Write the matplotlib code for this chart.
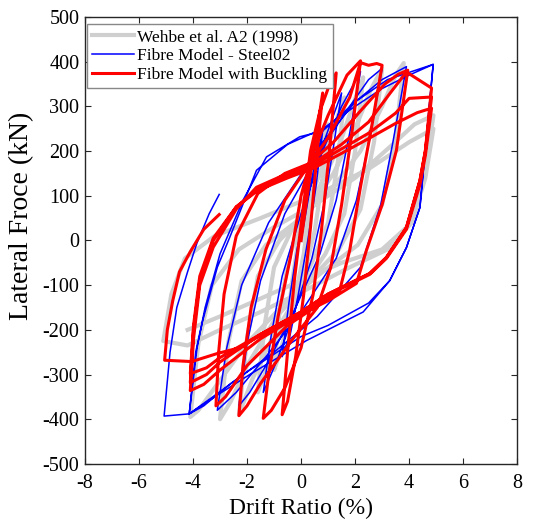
import matplotlib
matplotlib.use("Agg")
import matplotlib.pyplot as plt

plt.rcParams['axes.unicode_minus'] = False
plt.rcParams['font.family'] = ['Liberation Serif', 'DejaVu Serif']

# Wehbe et al. A2 (1998) test - drift (%) and lateral force (kN)
test_drift = [0, 0.25, 0.5, 0.35, 0.1, -0.2, -0.5,
              -0.35, -0.05, 0.4, 0.75, 1.0, 0.8, 0.5, 0.1, -0.5, -0.8, -1.0,
              -0.8, -0.45, 0.1, 0.7, 1.2, 1.6, 1.35, 1.0, 0.4, -0.4, -1.1, -1.6,
              -1.35, -1.0, -0.3, 0.6, 1.4, 1.9, 2.3, 2.0, 1.6, 0.9, 0.0, -1.0, -1.8, -2.3,
              -2.0, -1.6, -0.8, 0.3, 1.2, 2.0, 2.6, 3.0, 2.7, 2.2, 1.4, 0.3, -0.9, -2.0, -2.6, -3.0,
              -2.7, -2.2, -1.3, 0.0, 1.2, 2.2, 3.0, 3.5, 3.8, 3.5, 3.0, 2.1, 0.8, -0.6, -2.0, -3.2, -3.8, -4.1,
              -3.8, -3.3, -2.3, -1.0, 0.5, 2.0, 3.3, 4.2, 4.9, 4.6, 4.1, 3.2, 1.8, 0.2, -1.5, -3.0, -4.2, -5.1,
              -4.8, -4.3, -3.2, -1.5, 0.5, 2.5, 4.0, 4.9, 4.6, 4.1, 3.0, 1.5, 0.0, -1.5, -3.0, -4.2]
test_force = [0, 110, 190, 90, -30, -120, -200,
              -100, 20, 130, 210, 260, 140, 20, -80, -190, -255, -290,
              -160, -40, 60, 150, 250, 320, 170, 40, -50, -150, -260, -340,
              -190, -60, 30, 110, 210, 300, 365, 200, 60, -30, -110, -210, -310, -390,
              -220, -80, 0, 70, 150, 250, 340, 385, 220, 70, -20, -90, -170, -280, -360, -400,
              -230, -90, -10, 50, 120, 200, 300, 370, 397, 230, 80, -10, -70, -140, -230, -330, -380, -395,
              -230, -100, -20, 30, 80, 140, 210, 260, 280, 150, 40, -20, -60, -110, -160, -200, -235, -225,
              -120, -40, 10, 50, 100, 160, 220, 250, 140, 40, -20, -50, -90, -130, -170, -200]

# Fibre model - Steel02
steel_drift = [0, 0.4, 0.8, 0.55, 0.25, -0.1, -0.4, -0.7,
               -0.45, -0.15, 0.3, 0.9, 1.5, 1.2, 0.85, 0.4, -0.3, -0.9, -1.4,
               -1.1, -0.7, 0.0, 0.8, 1.5, 2.2, 1.8, 1.3, 0.7, -0.2, -1.2, -1.9, -2.3,
               -2.0, -1.5, -0.6, 0.8, 1.8, 2.5, 3.0, 2.55, 2.05, 1.3, 0.0, -1.3, -2.4, -3.1,
               -2.75, -2.2, -1.2, 0.8, 2.0, 3.0, 3.9, 3.4, 2.95, 2.2, 0.6, -1.0, -2.6, -3.6, -4.14,
               -3.9, -3.64, -3.1, -2.64, -1.65, -0.5, 0.8, 2.0, 3.0, 4.0, 4.89, 4.4, 3.9, 3.28, 2.5, 1.0, 0.0, -1.9, -3.5, -4.14,
               -3.85, -3.55, -3.0, -2.15, -1.28, -0.05, 0.8, 2.0, 3.2, 4.89, 4.4, 3.9, 3.28, 2.3, 0.2, -1.9, -3.2, -4.14, -5.07,
               -4.85, -4.6, -4.2, -3.85, -3.4, -3.03]
steel_force = [0, 140, 245, 120, 0, -120, -210, -260,
               -140, -20, 110, 230, 330, 210, 80, -40, -170, -270, -340,
               -210, -80, 60, 200, 300, 378, 240, 90, -30, -150, -270, -340, -370,
               -230, -90, 60, 210, 300, 360, 385, 230, 90, -40, -160, -260, -340, -380,
               -240, -100, 40, 220, 310, 360, 389, 220, 80, -60, -170, -250, -320, -370, -388,
               -250, -179, -60, 7, 157, 215, 250, 300, 340, 370, 394, 74, -16, -90, -140, -190, -215, -290, -360, -388,
               -240, -150, -30, 90, 187, 232, 245, 310, 360, 394, 74, -16, -90, -160, -224, -300, -350, -388, -393,
               -250, -150, -70, -5, 60, 103]

# Fibre model with buckling
buck_drift = [0, 0.3, 0.6, 0.8, 0.6, 0.35, 0.1, -0.2, -0.5, -0.7,
              -0.5, -0.25, 0.05, 0.35, 0.7, 1.0, 1.3, 1.05, 0.75, 0.45, 0.0, -0.6, -1.1, -1.4,
              -1.2, -0.85, -0.4, 0.0, 0.4, 1.0, 1.7, 2.2, 1.9, 1.5, 1.1, 0.6, -0.3, -1.5, -2.0, -2.3,
              -2.15, -1.85, -1.3, -0.6, 0.3, 1.0, 1.8, 2.2, 2.5, 2.8, 3.0, 2.6, 2.2, 1.8, 1.43, 0.5, -0.5, -2.0, -2.8, -3.15,
              -3.05, -2.85, -2.4, -1.6, -0.6, 0.3, 1.2, 2.2, 3.1, 3.6, 3.95, 3.53, 3.0, 2.42, 2.05, 1.0, 0.0, -1.5, -3.0, -3.6, -4.1,
              -3.98, -3.75, -3.25, -2.4, -1.65, -0.5, 0.5, 1.5, 2.5, 3.3, 3.9, 4.83, 4.6, 4.4, 3.9, 3.16, 2.54, 1.0, 0.0, -1.5, -3.0, -3.5, -4.1,
              -3.98, -3.75, -3.25, -2.4, -1.6, -0.5, 0.5, 1.5, 2.5, 3.5, 4.0, 4.83, 4.6, 4.4, 3.9, 3.16, 2.54, 1.0, 0.0, -1.5, -3.0, -3.5, -4.1,
              -3.98, -3.75, -3.25, -2.4, -1.6, -0.5, 0.5, 1.5, 2.5, 3.5, 4.3, 4.83, 4.6, 4.4, 3.9, 3.16, 2.54, 1.0, 0.0, -1.5, -2.27, -3.1, -4.05, -5.05,
              -4.95, -4.75, -4.5, -4.1, -3.6, -3.03]
buck_force = [0, 130, 250, 330, 200, 30, -120, -260, -360, -390,
              -250, -90, 60, 200, 290, 340, 375, 200, 20, -120, -240, -330, -380, -398,
              -300, -170, -40, 100, 190, 280, 370, 402, 250, 80, -60, -150, -220, -320, -370, -392,
              -280, -150, -20, 90, 170, 230, 320, 398, 392, 396, 392, 250, 120, -22, -112, -150, -190, -280, -350, -370,
              -250, -120, 10, 105, 150, 172, 220, 290, 350, 372, 381, 202, 80, -22, -96, -135, -165, -220, -290, -322, -336,
              -220, -100, -15, 70, 119, 150, 175, 215, 265, 330, 377, 341, 200, 134, 29, -38, -74, -120, -160, -210, -272, -300, -318,
              -200, -90, 0, 75, 115, 145, 170, 205, 240, 285, 318, 321, 200, 134, 29, -38, -74, -120, -160, -210, -262, -285, -298,
              -190, -80, 5, 75, 112, 140, 163, 195, 228, 262, 286, 296, 190, 125, 25, -40, -76, -122, -162, -212, -240, -253, -271, -268,
              -200, -135, -70, -25, 25, 58]

fig = plt.figure(figsize=(5.41, 5.32), dpi=100)
ax = fig.add_axes([0.157, 0.128, 0.799, 0.840])

ax.plot(test_drift, test_force, color='#cfcfcf', lw=3.0, label='Wehbe et al. A2 (1998)')
ax.plot(steel_drift, steel_force, color='#0000ff', lw=1.1, label='Fibre Model - Steel02')
ax.plot(buck_drift, buck_force, color='#ff0000', lw=2.2, label='Fibre Model with Buckling')

ax.set_xlim(-8, 8)
ax.set_ylim(-500, 500)
ax.set_xticks(range(-8, 9, 2))
ax.set_yticks(range(-500, 501, 100))
ax.tick_params(direction='in', top=True, right=True, length=4, labelsize=14.5, colors='#262626',
               labelcolor='black')
ax.tick_params(axis='x', pad=7)
ax.tick_params(axis='y', pad=4)
for sp in ax.spines.values():
    sp.set_color('#262626')
    sp.set_linewidth(1.0)

ax.set_xlabel('Drift Ratio (%)', fontsize=17, labelpad=4)
ax.set_ylabel('Lateral Froce (kN)', fontsize=20)
ax.yaxis.set_label_coords(-0.118, 0.555)

leg = ax.legend(loc='upper left', bbox_to_anchor=(0.005, 0.985), fontsize=12.5, frameon=True,
                fancybox=False, edgecolor='#888888', framealpha=1, borderaxespad=0,
                handlelength=2.4, handletextpad=0.2, labelspacing=0.15, borderpad=0.3)
leg.get_frame().set_linewidth(1.0)

fig.savefig('out.png', dpi=100)
